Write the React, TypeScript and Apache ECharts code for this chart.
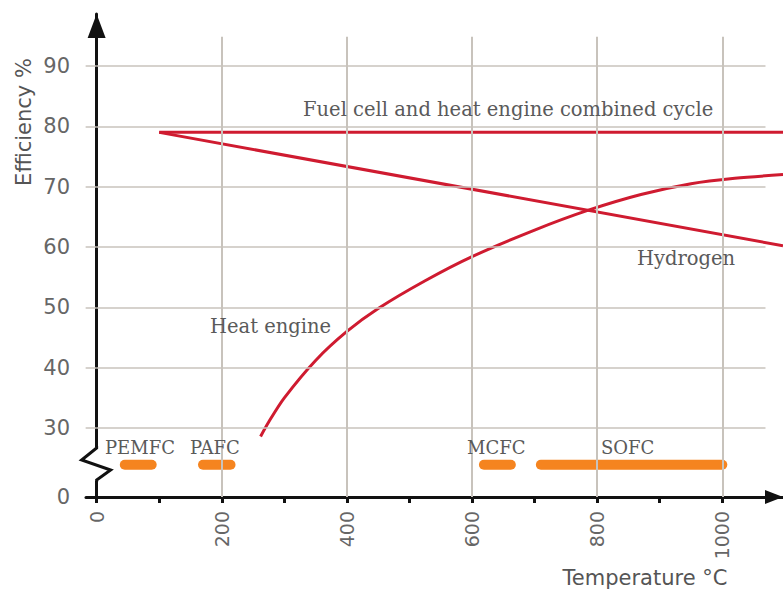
import React, { useEffect, useRef } from "react";
import * as echarts from "echarts";

// ---- data ----
const xTickValues = [0, 100, 200, 300, 400, 500, 600, 700, 800, 900, 1000];
const xLabelValues = [0, 200, 400, 600, 800, 1000];
const yTickValues = [30, 40, 50, 60, 70, 80, 90];
const yBreakZero = 18.56; // plotted position of "0" below the axis break
const verticalGrid = [200, 400, 600, 800, 1000];

const combinedX = [100, 1097];
const combinedY = [79, 79];
const hydrogenX = [100, 1097];
const hydrogenY = [79, 60.2];
const heatX = [262, 275, 300, 350, 400, 450, 525, 600, 700, 786, 870, 950, 1020, 1097];
const heatY = [28.6, 31.0, 35.0, 41.2, 46.0, 49.8, 54.4, 58.4, 62.8, 66.1, 68.7, 70.5, 71.4, 72.0];

const cellNames = ["PEMFC", "PAFC", "MCFC", "SOFC"];
const cellStart = [45, 170, 619, 710];
const cellEnd = [88, 214, 662, 1000];
const cellBandY = 23.9;

const RED = "#cf1b30";
const ORANGE = "#f5841f";
const GRID_COLOR = "#c8c3bc";
const SANS = "DejaVu Sans";
const SERIF = "DejaVu Serif";

export default function App() {
  const ref = useRef<HTMLDivElement>(null);
  useEffect(() => {
    if (!ref.current) return;
    const chart = echarts.init(ref.current, null, { renderer: "svg" });

    const gridLines: any[] = [];
    verticalGrid.forEach((v) => {
      gridLines.push([
        { coord: [v, yBreakZero], lineStyle: { color: GRID_COLOR, width: 2, type: "solid" } },
        { coord: [v, 94.85] },
      ]);
    });
    yTickValues.forEach((v) => {
      gridLines.push([
        { coord: [0, v], lineStyle: { color: GRID_COLOR, width: 1.5, type: "solid" } },
        { coord: [1069, v] },
      ]);
    });

    const cellSeries = cellNames.map((n, i) => ({
      name: n,
      type: "line",
      data: [
        [cellStart[i], cellBandY],
        [cellEnd[i], cellBandY],
      ],
      symbol: "none",
      lineStyle: { color: ORANGE, width: 10, cap: "round" },
      z: 3,
      silent: true,
    }));

    const option: any = {
      animation: false,
      grid: { left: 86, right: 0, top: 14, bottom: 93, containLabel: false, outerBoundsMode: "none" },
      xAxis: {
        type: "value",
        min: -17,
        max: 1097,
        axisLine: {
          show: true,
          onZero: false,
          lineStyle: { color: "#111", width: 3 },
          symbol: ["none", "triangle"],
          symbolSize: [14, 18],
          symbolOffset: [0, -9],
        },
        axisTick: {
          show: true,
          customValues: xTickValues,
          length: 6,
          lineStyle: { color: "#111", width: 3 },
        },
        axisLabel: {
          customValues: xLabelValues,
          formatter: (v: number) => String(Math.round(v)),
          rotate: 90,
          margin: 14,
          fontSize: 19,
          fontFamily: SANS,
          color: "#666",
        },
        splitLine: { show: false },
      },
      yAxis: {
        type: "value",
        min: yBreakZero,
        max: 98.62,
        axisLine: {
          show: true,
          onZero: true,
          lineStyle: { color: "#111", width: 3 },
          symbol: ["none", "triangle"],
          symbolSize: [18, 24],
          symbolOffset: [0, -12],
        },
        axisTick: {
          show: true,
          customValues: yTickValues,
          length: 11,
          lineStyle: { color: GRID_COLOR, width: 1.5 },
        },
        axisLabel: {
          customValues: [yBreakZero, ...yTickValues],
          formatter: (v: number) => (v < 25 ? "0" : String(Math.round(v))),
          margin: 16,
          fontSize: 21,
          fontFamily: SANS,
          color: "#666",
        },
        splitLine: { show: false },
      },
      series: [
        {
          type: "line",
          data: [],
          silent: true,
          z: 1,
          markLine: {
            silent: true,
            symbol: ["none", "none"],
            label: { show: false },
            animation: false,
            data: gridLines,
          },
        },
        ...cellSeries,
        {
          name: "Fuel cell and heat engine combined cycle",
          type: "line",
          data: combinedX.map((x, i) => [x, combinedY[i]]),
          symbol: "none",
          lineStyle: { color: RED, width: 3 },
          z: 4,
        },
        {
          name: "Hydrogen",
          type: "line",
          data: hydrogenX.map((x, i) => [x, hydrogenY[i]]),
          symbol: "none",
          lineStyle: { color: RED, width: 3 },
          z: 4,
        },
        {
          name: "Heat engine",
          type: "line",
          data: heatX.map((x, i) => [x, heatY[i]]),
          symbol: "none",
          smooth: 0.3,
          lineStyle: { color: RED, width: 3 },
          z: 4,
        },
      ],
    };
    chart.setOption(option);

    const ax = chart.convertToPixel({ gridIndex: 0 }, [0, 30]) as number[];
    const axisX = ax[0];
    const textStyle = (font: string, size: number, color: string, align: string) => ({
      fontFamily: font,
      fontSize: size,
      fill: color,
      align,
      verticalAlign: "middle",
    });

    const labelPos: [string, number, number, number][] = [
      ["Fuel cell and heat engine combined cycle", 303, 109, 19.5],
      ["Hydrogen", 637, 258, 19.5],
      ["Heat engine", 210, 326, 19.5],
    ];
    const cellLabelX = [105, 190, 467, 601];

    const graphic: any[] = [
      {
        type: "rect",
        z: 100,
        shape: { x: axisX - 3, y: 447, width: 6, height: 34 },
        style: { fill: "#fff" },
      },
      {
        type: "polyline",
        z: 101,
        shape: {
          points: [
            [axisX, 446],
            [axisX, 448],
            [axisX - 15, 460],
            [axisX + 14, 470],
            [axisX, 480],
            [axisX, 482],
          ],
        },
        style: { stroke: "#111", lineWidth: 3, fill: null, lineJoin: "miter" },
      },
      {
        type: "text",
        z: 100,
        x: 24,
        y: 122,
        rotation: Math.PI / 2,
        style: { text: "Efficiency %", ...textStyle(SANS, 21, "#555", "center") },
      },
      {
        type: "text",
        z: 100,
        x: 645,
        y: 578,
        style: { text: "Temperature °C", ...textStyle(SANS, 21, "#555", "center") },
      },
      ...labelPos.map(([t, x, y, s]) => ({
        type: "text",
        z: 100,
        x,
        y,
        style: { text: t, ...textStyle(SERIF, s, "#5a5a5a", "left") },
      })),
      ...cellNames.map((n, i) => ({
        type: "text",
        z: 100,
        x: cellLabelX[i],
        y: 447,
        style: { text: n, ...textStyle(SERIF, 18, "#5a5a5a", "left") },
      })),
    ];
    chart.setOption({ graphic });

    return () => chart.dispose();
  }, []);

  return (
    <div
      ref={ref}
      style={{ position: "fixed", left: 0, top: 0, width: 783, height: 590, background: "#fff" }}
    />
  );
}
